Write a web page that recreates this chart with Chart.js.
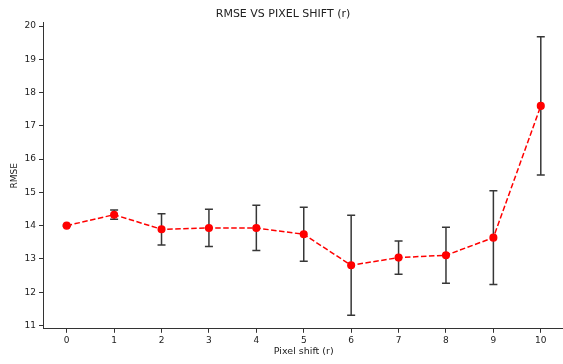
<!DOCTYPE html>
<html>
<head>
<meta charset="utf-8">
<script src="https://cdn.jsdelivr.net/npm/chart.js@4"></script>
<style>
  html, body { margin: 0; padding: 0; background: #fff; overflow: hidden; }
  #wrap { width: 563px; height: 364px; overflow: hidden; }
</style>
</head>
<body>
<div id="wrap"><canvas id="rmseChart" width="570" height="364"></canvas></div>
<script>
// pixel shift values (x) and the mean RMSE with its spread
const shifts = [0, 1, 2, 3, 4, 5, 6, 7, 8, 9, 10];
const rmse = [14.0, 14.33, 13.89, 13.93, 13.93, 13.74, 12.81, 13.04, 13.11, 13.64, 17.6];
const rmseErr = [0.02, 0.14, 0.47, 0.56, 0.68, 0.81, 1.5, 0.5, 0.84, 1.41, 2.08];
const yTicks = [11, 12, 13, 14, 15, 16, 17, 18, 19, 20];

const tickFont = { family: 'DejaVu Sans', size: 9 };

// draw the black error bars behind the red markers
const errorBars = {
	id: 'errorBars',
	beforeDatasetsDraw(chart) {
		const ctx = chart.ctx;
		const xs = chart.scales.x;
		const ys = chart.scales.y;
		ctx.save();
		ctx.strokeStyle = 'rgba(20,20,20,0.85)';
		ctx.lineWidth = 1.5;
		shifts.forEach((s, i) => {
			const x = xs.getPixelForValue(s);
			const top = ys.getPixelForValue(rmse[i] + rmseErr[i]);
			const bot = ys.getPixelForValue(rmse[i] - rmseErr[i]);
			ctx.beginPath();
			ctx.moveTo(x, top); ctx.lineTo(x, bot);
			ctx.moveTo(x - 4, top); ctx.lineTo(x + 4, top);
			ctx.moveTo(x - 4, bot); ctx.lineTo(x + 4, bot);
			ctx.stroke();
		});
		ctx.restore();
	}
};

new Chart(document.getElementById('rmseChart'), {
	type: 'line',
	data: {
		datasets: [{
			data: shifts.map((s, i) => ({ x: s, y: rmse[i] })),
			borderColor: '#ff0000',
			borderWidth: 1.5,
			borderDash: [5.5, 2.5],
			pointBackgroundColor: '#ff0000',
			pointBorderColor: '#ff0000',
			pointRadius: 3.3,
			tension: 0,
			fill: false
		}]
	},
	options: {
		responsive: false,
		animation: false,
		layout: { padding: { right: 4, left: 0, top: 0, bottom: 0 } },
		plugins: {
			legend: { display: false },
			tooltip: { enabled: false },
			title: {
				display: true,
				text: 'RMSE VS PIXEL SHIFT (r)',
				color: '#222',
				font: { family: 'DejaVu Sans', size: 11, weight: 'normal' },
				padding: { top: 7.5, bottom: 2 }
			}
		},
		scales: {
			x: {
				type: 'linear',
				min: -0.5,
				max: 10.5,
				afterBuildTicks(scale) { scale.ticks = shifts.map(v => ({ value: v })); },
				afterFit(scale) { scale.height = 35.2; },
				grid: { display: true, drawOnChartArea: false, drawTicks: true, tickLength: 4, color: '#333' },
				border: { display: true, color: '#333', width: 1 },
				ticks: { font: tickFont, color: '#222', padding: 2, maxRotation: 0 },
				title: {
					display: true, text: 'Pixel shift (r)', color: '#222',
					font: { family: 'DejaVu Sans', size: 9.5 },
					padding: { top: 0, bottom: 6.6 }
				}
			},
			y: {
				min: 10.9,
				max: 20.1,
				afterBuildTicks(scale) { scale.ticks = yTicks.map(v => ({ value: v })); },
				afterFit(scale) { scale.width = 43; },
				grid: { display: true, drawOnChartArea: false, drawTicks: true, tickLength: 4, color: '#333' },
				border: { display: true, color: '#333', width: 1 },
				ticks: { font: tickFont, color: '#222', padding: 3 },
				title: {
					display: true, text: 'RMSE', color: '#222',
					font: { family: 'DejaVu Sans', size: 9 },
					padding: { top: 9.6, bottom: 0 }
				}
			}
		}
	},
	plugins: [errorBars]
});
</script>
</body>
</html>
